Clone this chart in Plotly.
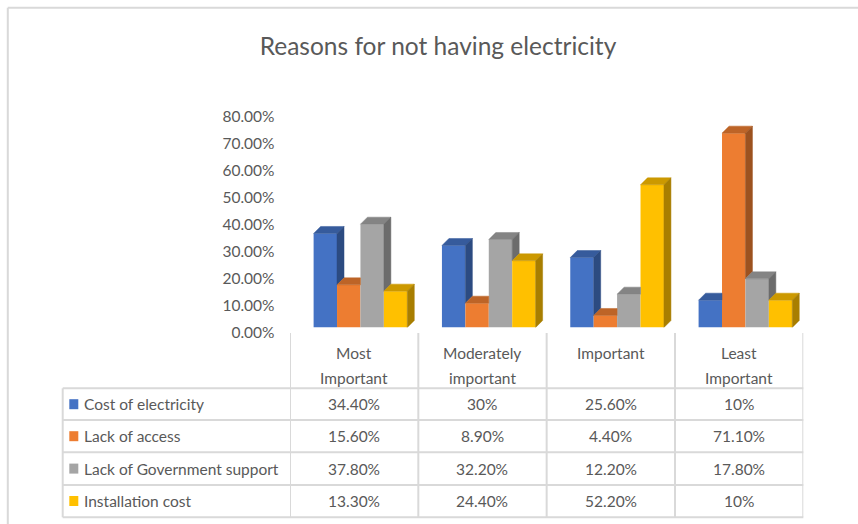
import plotly.graph_objects as go

# ---------------- data ----------------
categories = ["Most<br>Important", "Moderately<br>important", "Important", "Least<br>Important"]
series_names = ["Cost of electricity", "Lack of access", "Lack of Government support", "Installation cost"]
cost_of_electricity = [34.4, 30.0, 25.6, 10.0]
lack_of_access = [15.6, 8.9, 4.4, 71.1]
lack_of_gov_support = [37.8, 32.2, 12.2, 17.8]
installation_cost = [13.3, 24.4, 52.2, 10.0]
cost_text = ["34.40%", "30%", "25.60%", "10%"]
access_text = ["15.60%", "8.90%", "4.40%", "71.10%"]
gov_text = ["37.80%", "32.20%", "12.20%", "17.80%"]
install_text = ["13.30%", "24.40%", "52.20%", "10%"]
y_tick_values = [0, 10, 20, 30, 40, 50, 60, 70, 80]
y_tick_labels = ["0.00%", "10.00%", "20.00%", "30.00%", "40.00%", "50.00%", "60.00%", "70.00%", "80.00%"]

series_values = [cost_of_electricity, lack_of_access, lack_of_gov_support, installation_cost]
series_text = [cost_text, access_text, gov_text, install_text]

# ---------------- styles ----------------
W, H = 858, 524
FONT = "Lato"
TXT = "#595959"
GRID = "#D9D9D9"
front_colors = ["#4472C4", "#ED7D31", "#A5A5A5", "#FFC000"]


def shade(hex_color, f):
    h = hex_color.lstrip("#")
    r, g, b = (int(h[i:i + 2], 16) for i in (0, 2, 4))
    return "#%02X%02X%02X" % (int(r * f), int(g * f), int(b * f))


top_colors = [shade(c, 0.8) for c in front_colors]
side_colors = [shade(c, 0.66) for c in front_colors]


def px(x):
    return x / W


def py(y):
    return 1 - y / H


X_LEFT, X_RIGHT = 290.0, 803.3
Y_BASE, Y_TOP = 327.5, 108.8          # bars: 0% .. 80%
BAR_W = 0.1825
BAR_OFF0 = -0.316
unit_px = (X_RIGHT - X_LEFT) / 4.0
DX = 7.0 / unit_px
DY = 7.0 / ((Y_BASE - Y_TOP) / 80.0)

fig = go.Figure()
xs = list(range(len(categories)))

# front faces
for i, (name, vals) in enumerate(zip(series_names, series_values)):
    fig.add_trace(go.Bar(
        x=xs, y=vals, name=name, width=BAR_W, offset=BAR_OFF0 + i * BAR_W,
        marker=dict(color=front_colors[i], line=dict(width=0)),
        showlegend=False, hoverinfo="skip"))

# 3-D top and side faces computed from the values
n = len(series_values)
for i, vals in enumerate(series_values):
    tx, ty, sx, sy = [], [], [], []
    for c, v in enumerate(vals):
        x0 = c + BAR_OFF0 + i * BAR_W
        x1 = x0 + BAR_W
        vn = series_values[i + 1][c] if i + 1 < n else 0.0
        # top face
        if vn >= v:
            tx += [x0, x1, x1, x0 + DX, x0, None]
            ty += [v, v, v + DY, v + DY, v, None]
        else:
            tx += [x0, x1, x1 + DX, x0 + DX, x0, None]
            ty += [v, v, v + DY, v + DY, v, None]
        # side face (visible part above the next bar)
        if v > vn:
            sx += [x1, x1 + DX, x1 + DX, x1, x1, None]
            sy += [vn, vn + DY, v + DY, v, vn, None]
    fig.add_trace(go.Scatter(x=tx, y=ty, mode="lines", fill="toself",
                             fillcolor=top_colors[i], line=dict(width=0.5, color=top_colors[i]),
                             showlegend=False, hoverinfo="skip"))
    if sx:
        fig.add_trace(go.Scatter(x=sx, y=sy, mode="lines", fill="toself",
                                 fillcolor=side_colors[i], line=dict(width=0.5, color=side_colors[i]),
                                 showlegend=False, hoverinfo="skip"))

# dummy trace carrying the value axis labels
fig.add_trace(go.Scatter(x=[None], y=[None], xaxis="x2", yaxis="y2",
                         showlegend=False, hoverinfo="skip"))

shapes = []
# outer chart border
shapes.append(dict(type="line", xref="paper", yref="paper", x0=px(7.8), x1=px(858), y0=py(7.8), y1=py(7.8),
                   line=dict(color=GRID, width=2)))
shapes.append(dict(type="line", xref="paper", yref="paper", x0=px(7.8), x1=px(7.8), y0=py(7.8), y1=py(524),
                   line=dict(color=GRID, width=2)))

# data table grid
row_lines = [388.3, 420.0, 452.3, 485.0, 517.3]
for yl in row_lines:
    shapes.append(dict(type="line", xref="paper", yref="paper", x0=px(62.7), x1=px(X_RIGHT),
                       y0=py(yl), y1=py(yl), line=dict(color=GRID, width=2)))
shapes.append(dict(type="line", xref="paper", yref="paper", x0=px(62.7), x1=px(62.7),
                   y0=py(388.3), y1=py(517.3), line=dict(color=GRID, width=2)))
for k in range(len(categories) + 1):
    shapes.append(dict(type="line", xref="x", yref="paper", x0=k - 0.5, x1=k - 0.5,
                       y0=py(333), y1=py(517.3), line=dict(color=GRID, width=2)))

annotations = []
# category labels (table header)
for c, cat in enumerate(categories):
    for j, line in enumerate(cat.split("<br>")):
        annotations.append(dict(x=c, xref="x", y=py(353.3 + 24.3 * j), yref="paper",
                                text=line, showarrow=False, xanchor="center", yanchor="middle",
                                font=dict(family=FONT, size=15.5, color=TXT)))

row_centers = [404.2, 436.2, 468.6, 501.0]
for r, name in enumerate(series_names):
    rc = row_centers[r]
    shapes.append(dict(type="rect", xref="paper", yref="paper", x0=px(69.3), x1=px(78.3),
                       y0=py(rc - 5), y1=py(rc + 5), fillcolor=front_colors[r], line=dict(width=0)))
    annotations.append(dict(x=px(82), xref="paper", y=py(rc), yref="paper", text=name,
                            showarrow=False, xanchor="left", yanchor="middle",
                            font=dict(family=FONT, size=15.5, color=TXT)))
    for c, t in enumerate(series_text[r]):
        annotations.append(dict(x=c, xref="x", y=py(rc), yref="paper", text=t,
                                showarrow=False, xanchor="center", yanchor="middle",
                                font=dict(family=FONT, size=15.5, color=TXT)))

fig.update_layout(
    width=W, height=H, autosize=False,
    margin=dict(l=0, r=0, t=0, b=0, pad=0, autoexpand=False),
    paper_bgcolor="white", plot_bgcolor="rgba(0,0,0,0)",
    barmode="overlay",
    title=dict(text="Reasons for not having electricity", x=px(438), xanchor="center",
               y=py(46), yanchor="middle", xref="paper", yref="paper", automargin=False,
               font=dict(family=FONT, size=24.5, color=TXT)),
    xaxis=dict(domain=[px(X_LEFT), px(X_RIGHT)], range=[-0.5, 3.5], visible=False,
               fixedrange=True, automargin=False),
    yaxis=dict(domain=[py(Y_BASE), py(Y_TOP)], range=[0, 80], visible=False,
               fixedrange=True, automargin=False),
    xaxis2=dict(domain=[px(X_LEFT), px(X_RIGHT)], anchor="y2", range=[0, 1], visible=False,
                automargin=False),
    yaxis2=dict(domain=[py(333), py(116.7)], range=[0, 80], anchor="free", position=px(274.5),
                side="left", tickvals=y_tick_values, ticktext=y_tick_labels,
                showgrid=False, zeroline=False, showline=False, ticks="", automargin=False,
                tickfont=dict(family=FONT, size=15.5, color=TXT)),
    shapes=shapes, annotations=annotations,
    showlegend=False,
)

fig.write_html("out.html", config={"displayModeBar": False})
